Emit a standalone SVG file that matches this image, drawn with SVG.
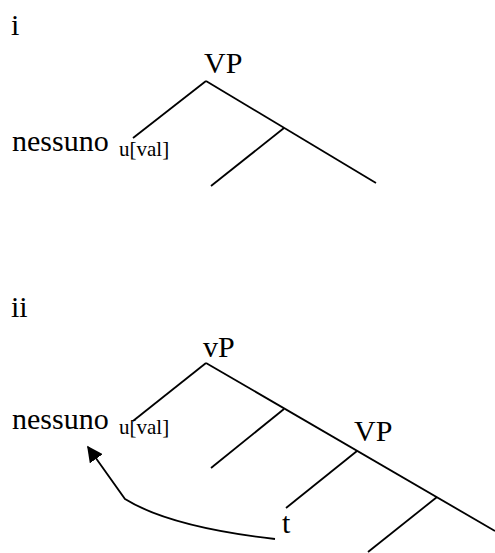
<svg xmlns="http://www.w3.org/2000/svg" width="495" height="553" viewBox="0 0 495 553">
<defs>
<style>
.lab{font-size:30px;font-family:'Liberation Serif','Times New Roman',serif;fill:#000}
.sub{font-size:21px;font-family:'Liberation Serif','Times New Roman',serif;fill:#000}
.edge{stroke:#000;stroke-width:1.8;fill:none;stroke-linecap:butt}
</style>
<marker id="ah" viewBox="0 0 10 10" refX="9" refY="5" markerWidth="16" markerHeight="16" markerUnits="userSpaceOnUse" orient="auto">
<path d="M0,0 L10,5 L0,10 Z" fill="#000"/>
</marker>
</defs>
<rect width="495" height="553" fill="#fff"/>
<g id="labels">
<text class="lab" x="11" y="35">i</text>
<text class="lab" x="11" y="317">ii</text>
</g>
<g id="tree1-VP"><text class="lab" x="204" y="73">VP</text></g>
<g id="tree1-nessuno"><text class="lab" x="12" y="151">nessuno</text><text class="sub" x="119" y="156">u[val]</text></g>
<g id="tree2-vP"><text class="lab" x="203" y="357">vP</text></g>
<g id="tree2-nessuno"><text class="lab" x="12" y="429">nessuno</text><text class="sub" x="119" y="434">u[val]</text></g>
<g id="tree2-VP"><text class="lab" x="354" y="441">VP</text></g>
<g id="tree2-t"><text class="lab" x="282" y="533">t</text></g>
<g id="connectors">
<line class="edge" x1="206" y1="81" x2="133" y2="138"/>
<line class="edge" x1="206" y1="81" x2="376" y2="183"/>
<line class="edge" x1="284" y1="128" x2="211" y2="186"/>
<line class="edge" x1="206" y1="363" x2="133" y2="421"/>
<line class="edge" x1="206" y1="363" x2="495" y2="531"/>
<line class="edge" x1="284" y1="409" x2="211" y2="468"/>
<line class="edge" x1="357" y1="451" x2="286" y2="508"/>
<line class="edge" x1="437" y1="497" x2="368" y2="552"/>
<path class="edge" d="M275,539 Q170,527 125,499 L88,447" marker-end="url(#ah)"/>
</g>
</svg>
